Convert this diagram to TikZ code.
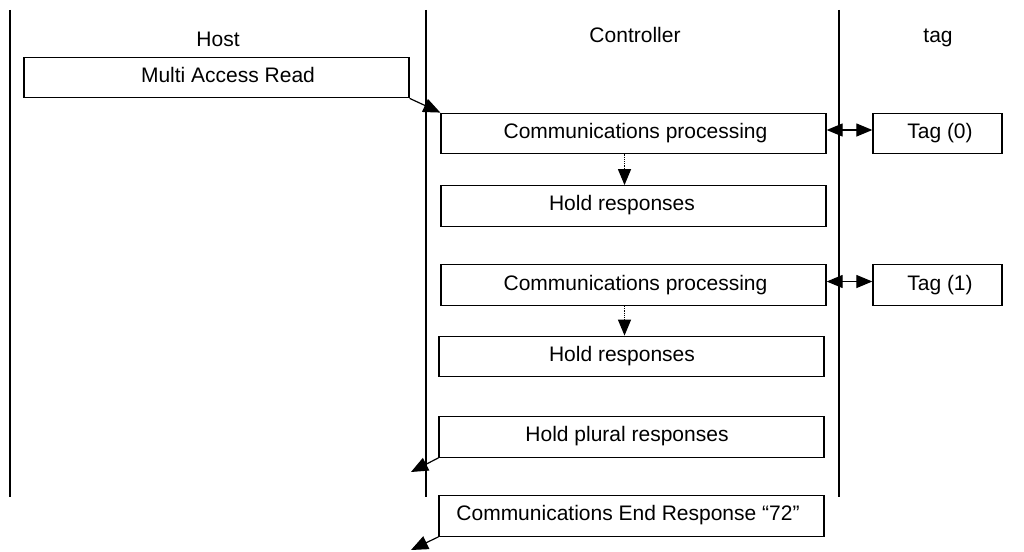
\documentclass[tikz,border=0pt]{standalone}
\usepackage{fontspec}
\setmainfont{Liberation Sans}
\usetikzlibrary{arrows.meta}
\begin{document}
\begin{tikzpicture}[x=1pt,y=-1pt,
  box/.style={draw,line width=1.3pt,inner sep=0pt,minimum width=385pt,minimum height=40.5pt},
  tagbox/.style={draw,line width=1.3pt,inner sep=0pt,minimum width=129pt,minimum height=40.5pt},
  txt/.style={anchor=base,inner sep=0pt,font=\fontsize{21}{25}\selectfont},
  life/.style={line width=1.2pt},
  msg/.style={line width=1.2pt,-{Triangle[length=17pt,width=14pt]}},
  dmsg/.style={line width=1.2pt,{Triangle[length=16pt,width=13pt]}-{Triangle[length=16pt,width=13pt]}},
  dotmsg/.style={line width=1.2pt,densely dotted,-{Triangle[length=16pt,width=13pt,sep=0pt]}}
]
\useasboundingbox (0,0) rectangle (1024,551);
% lifelines
\coordinate (hT) at (10,10);   \coordinate (hB) at (10,497);
\coordinate (cT) at (426,10);  \coordinate (cB) at (426,497);
\coordinate (tT) at (839,10);  \coordinate (tB) at (839,497);
\draw[life] (hT) -- (hB);
\draw[life] (cT) -- (cB);
\draw[life] (tT) -- (tB);
% headings
\node[txt] (host) at (218,46) {Host};
\node[txt] (ctrl) at (635,42) {Controller};
\node[txt] (tagh) at (938,42) {tag};
% boxes
\node[box] (mar) at (216.5,77.5) {};
\node[txt] (mart) at (228,82) {Multi Access Read};
\node[box] (c1) at (633.5,133.5) {};
\node[txt] (c1t) at (635.5,138.5) {Communications processing};
\node[tagbox] (t0) at (937.5,133.5) {};
\node[txt] (t0t) at (940,138.5) {Tag (0)};
\node[box] (h1) at (633.5,206) {};
\node[txt] (h1t) at (622,210.5) {Hold responses};
\node[box] (c2) at (633.5,285) {};
\node[txt] (c2t) at (635.5,290) {Communications processing};
\node[tagbox] (t1) at (937.5,285) {};
\node[txt] (t1t) at (940,290) {Tag (1)};
\node[box] (h2) at (631.5,356.5) {};
\node[txt] (h2t) at (622,361) {Hold responses};
\node[box] (hp) at (631.5,437) {};
\node[txt] (hpt) at (627,441.5) {Hold plural responses};
\node[box] (er) at (631.5,516) {};
\node[txt] (ert) at (628,520.5) {Communications End Response “72”};
% connectors
\coordinate (r1) at (411,472);
\coordinate (r2) at (411,550);
\draw[msg] (mar.south east) -- (c1.north west);
\draw[dmsg] ([yshift=3.5pt]c1.east) -- ([yshift=3.5pt]t0.west);
\draw[dmsg] ([yshift=3.5pt]c2.east) -- ([yshift=3.5pt]t1.west);
\draw[dotmsg] ([xshift=-9pt]c1.south) -- ([xshift=-9pt]h1.north);
\draw[dotmsg] ([xshift=-9pt]c2.south) -- ([xshift=-7pt]h2.north);
\draw[msg] (hp.south west) -- (r1);
\draw[msg] (er.south west) -- (r2);
\end{tikzpicture}
\end{document}
